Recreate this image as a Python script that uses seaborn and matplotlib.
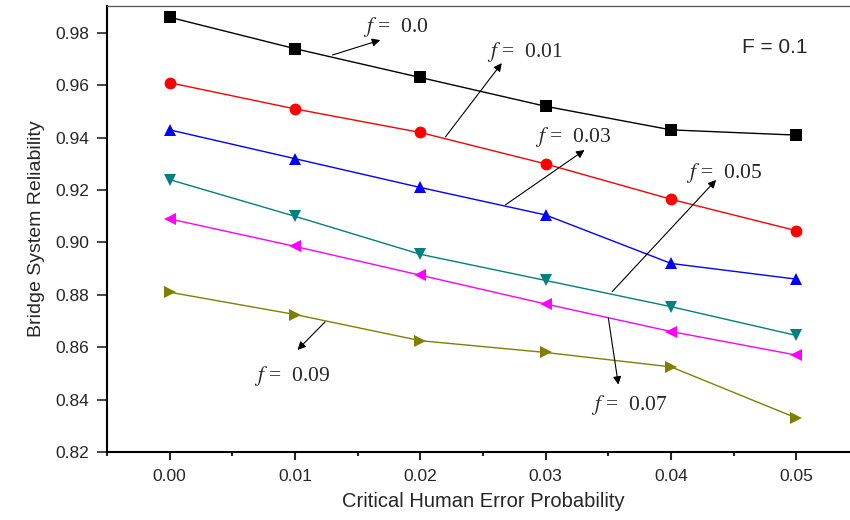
import numpy as np
import pandas as pd
import matplotlib
matplotlib.use("Agg")
import matplotlib.pyplot as plt
import seaborn as sns
from matplotlib.ticker import MultipleLocator

# Data
prob = [0.00, 0.01, 0.02, 0.03, 0.04, 0.05]
f_labels = ["0.0", "0.01", "0.03", "0.05", "0.07", "0.09"]
rel_f000 = [0.986, 0.974, 0.963, 0.952, 0.943, 0.941]
rel_f001 = [0.961, 0.951, 0.942, 0.930, 0.9165, 0.9045]
rel_f003 = [0.943, 0.932, 0.921, 0.9105, 0.892, 0.886]
rel_f005 = [0.924, 0.910, 0.8955, 0.8855, 0.8755, 0.8645]
rel_f007 = [0.909, 0.8985, 0.8875, 0.8765, 0.866, 0.857]
rel_f009 = [0.881, 0.8725, 0.8625, 0.858, 0.8525, 0.833]
series = [rel_f000, rel_f001, rel_f003, rel_f005, rel_f007, rel_f009]

colors = ["#000000", "#FF0000", "#0000FF", "#008080", "#FF00FF", "#808000"]
marks = ["s", "o", "^", "v", "<", ">"]

df = pd.DataFrame({
    "p": prob * len(series),
    "R": [v for s in series for v in s],
    "f": [lab for lab in f_labels for _ in prob],
})

sns.set_style("ticks")
plt.rcParams["font.family"] = ["Liberation Sans", "DejaVu Sans"]
plt.rcParams["mathtext.fontset"] = "stix"

fig = plt.figure(figsize=(8.5, 5.2), dpi=100)
ax = fig.add_axes([107 / 850, 68 / 520, 752 / 850, 446 / 520])

sns.lineplot(data=df, x="p", y="R", hue="f", style="f",
             palette=dict(zip(f_labels, colors)),
             markers=dict(zip(f_labels, marks)), dashes=False,
             markersize=8.5, markeredgewidth=0, linewidth=1.0,
             legend=False, ax=ax)

ax.set_xlim(-0.005, 0.055)
ax.set_ylim(0.82, 0.9903)
ax.xaxis.set_major_locator(MultipleLocator(0.01))
ax.xaxis.set_minor_locator(MultipleLocator(0.005))
ax.yaxis.set_major_locator(MultipleLocator(0.02))
ax.xaxis.set_major_formatter(matplotlib.ticker.FormatStrFormatter("%.2f"))
ax.yaxis.set_major_formatter(matplotlib.ticker.FormatStrFormatter("%.2f"))
ax.tick_params(axis="x", which="major", direction="out", length=6, width=1.5, pad=6, labelsize=12.5)
ax.tick_params(axis="x", which="minor", direction="out", length=3, width=1.5)
ax.tick_params(axis="y", which="major", direction="out", length=7, width=1.2, pad=6, labelsize=12.5)

for side in ["left", "bottom"]:
    ax.spines[side].set_linewidth(1.5)
    ax.spines[side].set_color("black")
ax.spines["top"].set_visible(True)
ax.spines["top"].set_linewidth(0.9)
ax.spines["top"].set_color("#555555")
ax.spines["right"].set_visible(False)

ax.set_xlabel("Critical Human Error Probability", fontsize=14.5, labelpad=6)
ax.set_ylabel("Bridge System Reliability", fontsize=14, labelpad=7)

# annotation arrows: (label, tail on line, arrow head, text centre)
notes = [
    ("0.0", (0.0130, 0.9716), (0.0168, 0.9773), (0.0180, 0.9823)),
    ("0.01", (0.0220, 0.9403), (0.0265, 0.9685), (0.0283, 0.9727)),
    ("0.03", (0.0268, 0.9144), (0.0331, 0.9353), (0.0322, 0.9403)),
    ("0.05", (0.0353, 0.8812), (0.0436, 0.9239), (0.0442, 0.9266)),
    ("0.07", (0.0350, 0.8712), (0.0358, 0.8457), (0.0367, 0.8380)),
    ("0.09", (0.0124, 0.8697), (0.0102, 0.8590), (0.0098, 0.8491)),
]
for lab, tail, head, txt in notes:
    ax.annotate("", xy=head, xytext=tail,
                arrowprops=dict(arrowstyle="-|>", color="black", lw=0.8,
                                mutation_scale=12, shrinkA=0, shrinkB=0))
    ax.text(txt[0], txt[1], r"$f$ =  " + lab, fontsize=15.5,
            family="Liberation Serif", ha="center", va="center")

ax.text(0.0483, 0.9743, "F = 0.1", fontsize=15, ha="center", va="center")

fig.savefig("out.png", dpi=100)
